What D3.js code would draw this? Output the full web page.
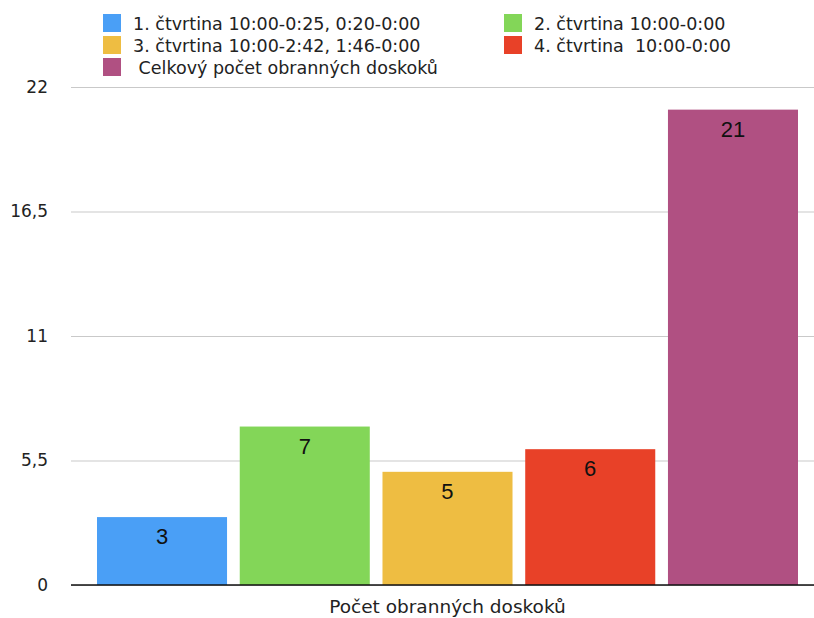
<!DOCTYPE html>
<html>
<head>
<meta charset="utf-8">
<script src="https://cdn.jsdelivr.net/npm/d3@7/dist/d3.min.js"></script>
<style>
  html, body { margin: 0; padding: 0; background: #fff; }
  svg { display: block; font-family: "DejaVu Sans", Verdana, sans-serif; }
  .legend text { white-space: pre; }
</style>
</head>
<body>
<svg id="chart" width="814" height="618"></svg>
<script>
// Obranné doskoky podle čtvrtin
const category = "Počet obranných doskoků";
const seriesNames = [
  "1. čtvrtina 10:00-0:25, 0:20-0:00",
  "2. čtvrtina 10:00-0:00",
  "3. čtvrtina 10:00-2:42, 1:46-0:00",
  "4. čtvrtina  10:00-0:00",
  " Celkový počet obranných doskoků"
];
const seriesValues = [3, 7, 5, 6, 21];
const seriesColors = ["#4a9ff6", "#83d658", "#eebd42", "#e84128", "#b05082"];
const yTicks = [0, 5.5, 11, 16.5, 22];
const yTickLabels = ["0", "5,5", "11", "16,5", "22"];

const svg = d3.select("#chart");
const plot = { left: 71, right: 824, top: 87, bottom: 585 };

const y = d3.scaleLinear().domain([0, 22]).range([plot.bottom, plot.top]);
const x0 = d3.scaleBand().domain([category]).range([plot.left, plot.right])
  .paddingInner(0).paddingOuter(0.0371);
const x1 = d3.scaleBand().domain(seriesNames).range([0, x0.bandwidth()])
  .paddingInner(0.089).paddingOuter(0);

// horizontal grid lines with value labels
const yAxis = d3.axisLeft(y).tickValues(yTicks)
  .tickFormat((d, i) => yTickLabels[i])
  .tickSize(-(814 - plot.left)).tickPadding(23);
const gy = svg.append("g").attr("transform", `translate(${plot.left},0)`).call(yAxis);
gy.select(".domain").remove();
gy.selectAll(".tick line").attr("stroke", "#c9c9c9").attr("stroke-width", 1.2);
gy.selectAll(".tick text").attr("fill", "#222")
  .style("font-family", "'DejaVu Sans', Verdana, sans-serif").style("font-size", "17px");

// bars
const group = svg.append("g").attr("transform", `translate(${x0(category)},0)`);
const bars = group.selectAll("g.bar").data(seriesValues).join("g").attr("class", "bar");
bars.append("rect")
  .attr("x", (d, i) => x1(seriesNames[i]))
  .attr("y", d => y(d))
  .attr("width", x1.bandwidth())
  .attr("height", d => y(0) - y(d))
  .attr("fill", (d, i) => seriesColors[i]);
bars.append("text")
  .attr("x", (d, i) => x1(seriesNames[i]) + x1.bandwidth() / 2)
  .attr("y", d => y(d) + 27)
  .attr("text-anchor", "middle")
  .attr("fill", "#111")
  .style("font-family", "'Liberation Sans', Arial, sans-serif")
  .style("font-size", "22px")
  .text(d => d);

// baseline
svg.append("line")
  .attr("x1", plot.left).attr("x2", 814)
  .attr("y1", y(0)).attr("y2", y(0))
  .attr("stroke", "#111").attr("stroke-width", 1.5);

// category label
svg.append("text")
  .attr("x", x0(category) + x0.bandwidth() / 2)
  .attr("y", 613)
  .attr("text-anchor", "middle")
  .attr("fill", "#222")
  .style("font-size", "18.5px")
  .text(category);

// legend
const legendPos = [
  { x: 103, y: 14 }, { x: 504, y: 14 },
  { x: 103, y: 36 }, { x: 504, y: 36 },
  { x: 103, y: 58 }
];
const legend = svg.append("g").attr("class", "legend");
const items = legend.selectAll("g").data(seriesNames).join("g")
  .attr("transform", (d, i) => `translate(${legendPos[i].x},${legendPos[i].y})`);
items.append("rect").attr("width", 18).attr("height", 18)
  .attr("fill", (d, i) => seriesColors[i]);
items.append("text").attr("x", 30).attr("y", 15.5)
  .attr("fill", "#222").style("font-size", "17.5px")
  .text(d => d);
</script>
</body>
</html>
